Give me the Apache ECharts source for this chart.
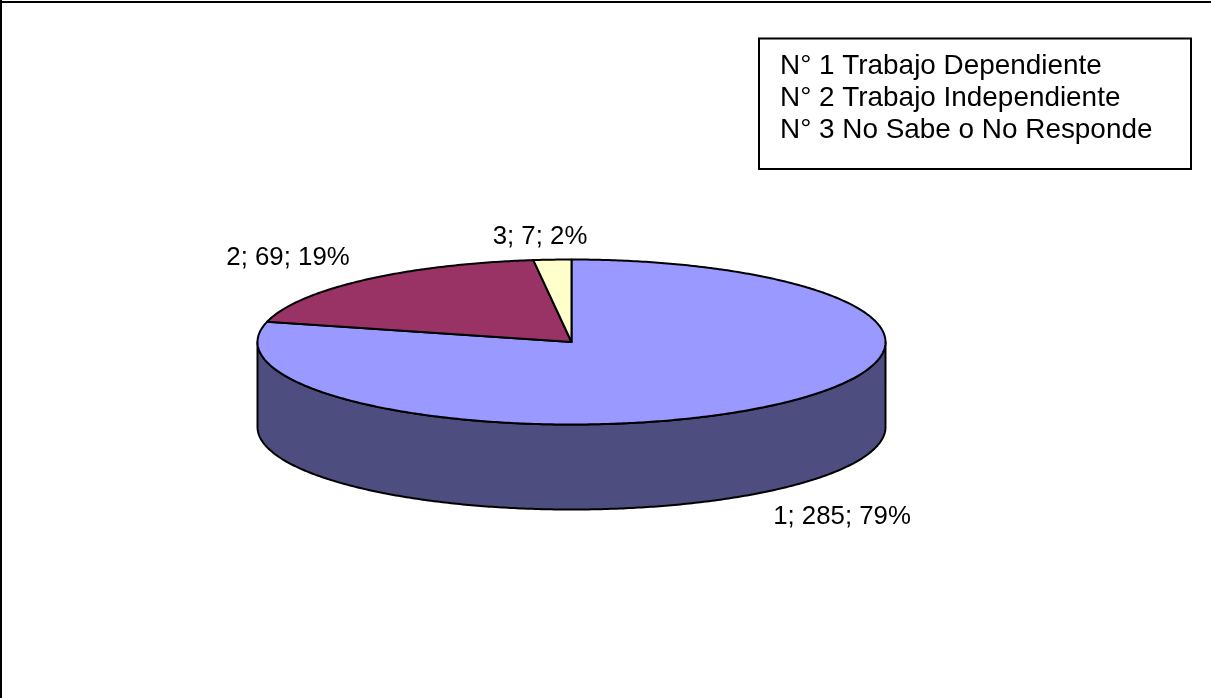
<!DOCTYPE html>
<html>
<head>
<meta charset="utf-8">
<style>
  html, body { margin: 0; padding: 0; background: #fff; }
  #chart { width: 1211px; height: 698px; }
</style>
<script src="https://cdn.jsdelivr.net/npm/echarts@6/dist/echarts.min.js"></script>
</head>
<body>
<div id="chart"></div>
<script>
// data
var categories = ['1', '2', '3'];
var values = [285, 69, 7];
var percents = ['79%', '19%', '2%'];
var legendLines = [
  'N° 1 Trabajo Dependiente',
  'N° 2 Trabajo Independiente',
  'N° 3 No Sabe o No Responde'
];

// look
var topColors = ['#9999ff', '#993366', '#ffffcc'];
var sideColors = ['#4d4d80', '#4d1a33', '#808066'];
var labelPos = [[842, 517], [288, 258], [540, 237]];
var font = '"Liberation Sans", Arial, sans-serif';

var cx = 571.5, cy = 342, rx = 314, ry = 82.5, depth = 85;
var total = values.reduce(function (a, b) { return a + b; }, 0);

// clockwise from 12 o'clock, squashed into the ellipse
function pt(angle, drop) {
  return [cx + rx * Math.sin(angle), cy - ry * Math.cos(angle) + (drop || 0)];
}

function arc(from, to, drop) {
  var pts = [];
  var steps = Math.max(2, Math.ceil(Math.abs(to - from) / 0.01));
  for (var i = 0; i <= steps; i++) {
    pts.push(pt(from + (to - from) * i / steps, drop));
  }
  return pts;
}

function renderSlice(params, api) {
  var i = params.dataIndex;
  var before = 0;
  for (var k = 0; k < i; k++) {
    before += values[k];
  }
  var a0 = before / total * Math.PI * 2;
  var a1 = (before + api.value(1)) / total * Math.PI * 2;
  var children = [];
  var lineStyle = { stroke: '#000', lineWidth: 2, lineJoin: 'round' };

  // side wall, only the front half of the disc shows it
  var w0 = Math.max(a0, Math.PI / 2);
  var w1 = Math.min(a1, Math.PI * 1.5);
  if (w1 > w0) {
    children.push({
      type: 'polygon',
      shape: { points: arc(w0, w1, 0).concat(arc(w1, w0, depth)) },
      style: Object.assign({ fill: sideColors[i] }, lineStyle)
    });
  }
  children.push({
    type: 'polygon',
    shape: { points: [[cx, cy]].concat(arc(a0, a1, 0)) },
    style: Object.assign({ fill: topColors[i] }, lineStyle)
  });
  children.push({
    type: 'text',
    style: {
      x: labelPos[i][0],
      y: labelPos[i][1],
      text: categories[i] + '; ' + api.value(1) + '; ' + percents[i],
      fill: '#000',
      font: '25.8px ' + font,
      align: 'center',
      verticalAlign: 'middle'
    }
  });
  return { type: 'group', children: children };
}

var chart = echarts.init(document.getElementById('chart'), null, { renderer: 'canvas' });
chart.setOption({
  animation: false,
  backgroundColor: '#fff',
  graphic: [
    { type: 'line', shape: { x1: 0, y1: 2, x2: 1211, y2: 2 }, style: { stroke: '#000', lineWidth: 2 } },
    { type: 'line', shape: { x1: 1, y1: 0, x2: 1, y2: 698 }, style: { stroke: '#000', lineWidth: 2 } },
    { type: 'rect', shape: { x: 759, y: 38.5, width: 432, height: 130.5 }, style: { fill: '#fff', stroke: '#000', lineWidth: 2 } },
    {
      type: 'text',
      style: {
        x: 780,
        y: 50,
        text: legendLines.join('\n'),
        fill: '#000',
        font: '27.9px ' + font,
        lineHeight: 32
      }
    }
  ],
  series: [{
    type: 'custom',
    coordinateSystem: 'none',
    silent: true,
    data: categories.map(function (c, i) { return [c, values[i]]; }),
    renderItem: renderSlice
  }]
});
</script>
</body>
</html>
